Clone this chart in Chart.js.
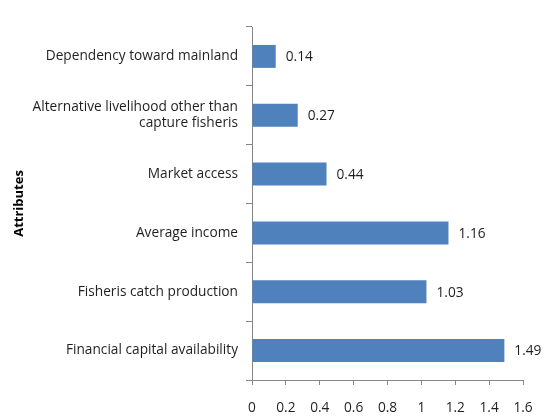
<!DOCTYPE html>
<html>
<head>
<meta charset="utf-8">
<script src="https://cdn.jsdelivr.net/npm/chart.js@4.4.1/dist/chart.umd.min.js"></script>
<style>
  html, body { margin: 0; padding: 0; background: #fff; }
  #wrap { width: 543px; height: 416px; position: relative; }
</style>
</head>
<body>
<div id="wrap"><canvas id="chart"></canvas></div>
<script>
  // attribute names, top to bottom
  const attributes = [
    'Dependency toward mainland',
    ['Alternative livelihood other than', 'capture fisheris'],
    'Market access',
    'Average income',
    'Fisheris catch production',
    'Financial capital availability',
  ];
  const scores = [0.14, 0.27, 0.44, 1.16, 1.03, 1.49];
  const xTicks = [0, 0.2, 0.4, 0.6, 0.8, 1, 1.2, 1.4, 1.6];

  const FONT = "'Open Sans', 'Liberation Sans', sans-serif";
  const SIZE = 13.7;
  const INK = '#1f1f1f';
  const AXIS = '#868686';

  // writes each bar's value just past its end
  const valueLabels = {
    id: 'valueLabels',
    afterDatasetsDraw(chart) {
      const { ctx } = chart;
      const meta = chart.getDatasetMeta(0);
      ctx.save();
      ctx.font = SIZE + 'px ' + FONT;
      ctx.fillStyle = INK;
      ctx.textBaseline = 'middle';
      ctx.textAlign = 'left';
      meta.data.forEach((bar, i) => {
        ctx.fillText(String(scores[i]), bar.x + 10, bar.y + 1);
      });
      ctx.restore();
    },
  };

  new Chart(document.getElementById('chart'), {
    type: 'bar',
    data: {
      labels: attributes,
      datasets: [{
        data: scores,
        backgroundColor: '#4f81bd',
        borderWidth: 0,
        barPercentage: 0.78,
        categoryPercentage: 0.5,
      }],
    },
    options: {
      indexAxis: 'y',
      responsive: true,
      maintainAspectRatio: false,
      animation: false,
      layout: { padding: { top: 27, right: 20, left: 0, bottom: 0 } },
      plugins: { legend: { display: false }, tooltip: { enabled: false } },
      scales: {
        x: {
          min: 0,
          max: 1.6,
          afterBuildTicks: (scale) => { scale.ticks = xTicks.map((v) => ({ value: v })); },
          afterFit: (scale) => {
            scale.height = 36;
            scale.paddingLeft = 0;
            scale.paddingRight = 0;
          },
          grid: { drawOnChartArea: false, drawTicks: true, tickLength: 5, color: AXIS },
          border: { display: true, color: AXIS, width: 1 },
          ticks: {
            color: INK,
            font: { family: FONT, size: SIZE },
            padding: 15,
            maxRotation: 0,
            callback: (v) => String(v),
          },
        },
        y: {
          afterFit: (scale) => { scale.width = 252; },
          grid: { drawOnChartArea: false, drawTicks: true, tickLength: 6, color: AXIS, offset: true },
          border: { display: true, color: AXIS, width: 1 },
          ticks: { color: INK, font: { family: FONT, size: SIZE }, padding: 8 },
          title: {
            display: true,
            text: 'Attributes',
            color: '#000',
            font: { family: FONT, size: 13, weight: 'bold' },
            padding: { top: 11, bottom: 0 },
          },
        },
      },
    },
    plugins: [valueLabels],
  });
</script>
</body>
</html>
